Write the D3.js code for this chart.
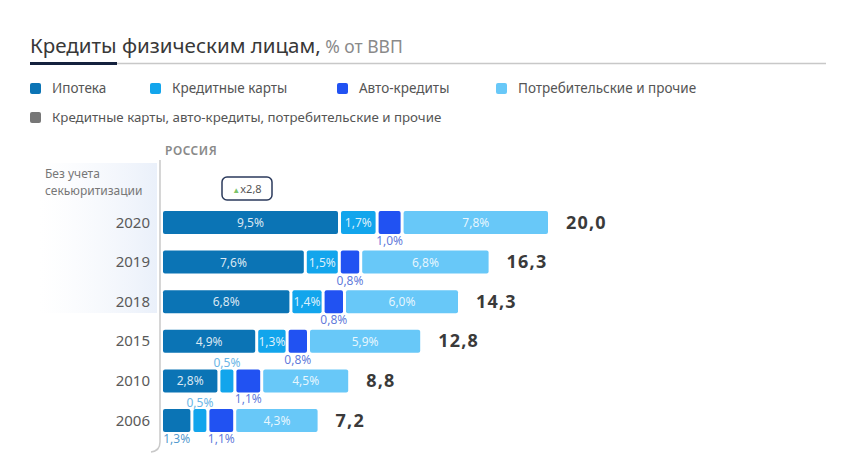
<!DOCTYPE html>
<html><head><meta charset="utf-8">
<script src="https://cdn.jsdelivr.net/npm/d3@7"></script>
<style>body{margin:0;background:#fff}svg{display:block;font-family:"Noto Sans",sans-serif}</style>
</head><body><svg id="c" width="847" height="460"></svg>
<script>
const years = ["2020","2019","2018","2015","2010","2006"];
const mortgage = [9.5,7.6,6.8,4.9,2.8,1.3];
const cards = [1.7,1.5,1.4,1.3,0.5,0.5];
const autoLoans = [1.0,0.8,0.8,0.8,1.1,1.1];
const consumer = [7.8,6.8,6.0,5.9,4.5,4.3];
const totals = ["20,0","16,3","14,3","12,8","8,8","7,2"];
const seriesNames = ["Ипотека","Кредитные карты","Авто-кредиты","Потребительские и прочие"];
const combinedName = "Кредитные карты, авто-кредиты, потребительские и прочие";
const colors = ["#0b74b5","#12a5ec","#2152f2","#68c8f8"];
const combinedColor = "#777";

const svg = d3.select("#c");
const fmt = v => v.toFixed(1).replace(".", ",") + "%";

// title
const t = svg.append("text").attr("x",30).attr("y",53);
t.append("tspan").text("Кредиты физическим лицам,").attr("font-size",20.5).attr("fill","#383838");
t.append("tspan").text(" % от ВВП").attr("font-size",17.5).attr("fill","#8a8a8a");
svg.append("line").attr("x1",117).attr("x2",826).attr("y1",63.5).attr("y2",63.5).attr("stroke","#c8c8c8").attr("stroke-width",1.5);
svg.append("line").attr("x1",30).attr("x2",117).attr("y1",63.5).attr("y2",63.5).attr("stroke","#14213d").attr("stroke-width",3);

// legend
const legX = [30,150,337,496];
seriesNames.forEach((n,i)=>{
  svg.append("rect").attr("x",legX[i]).attr("y",83).attr("width",11).attr("height",11).attr("rx",2).attr("fill",colors[i]);
  svg.append("text").attr("x",legX[i]+22).attr("y",93).attr("font-size",13.5).attr("fill","#555").text(n);
});
svg.append("rect").attr("x",30).attr("y",112).attr("width",11).attr("height",11).attr("rx",2).attr("fill",combinedColor);
svg.append("text").attr("x",52).attr("y",122).attr("font-size",13.3).attr("fill","#555").text(combinedName);

// left panel gradient
const defs = svg.append("defs");
const g = defs.append("linearGradient").attr("id","lg").attr("x1","0").attr("x2","1").attr("y1","0").attr("y2","0");
g.append("stop").attr("offset","0").attr("stop-color","#f4f7fc").attr("stop-opacity",0);
g.append("stop").attr("offset","1").attr("stop-color","#eaf0fa");
svg.append("rect").attr("x",40).attr("y",163).attr("width",117).attr("height",150).attr("fill","url(#lg)");

// axis line with rounded corner
svg.append("path").attr("d","M160,160 L160,442 Q160,451 151,452").attr("fill","none").attr("stroke","#c9c9c9").attr("stroke-width",1.5);

svg.append("text").attr("x",165).attr("y",155).attr("font-size",12).attr("font-weight",600).attr("fill","#8a8a8a").attr("letter-spacing",0.5).text("РОССИЯ");
svg.append("text").attr("x",45).attr("y",178).attr("font-size",12).attr("fill","#777").text("Без учета");
svg.append("text").attr("x",45).attr("y",195).attr("font-size",12).attr("fill","#777").text("секьюритизации");

// badge
svg.append("rect").attr("x",222).attr("y",177).attr("width",50).attr("height",23).attr("rx",5).attr("fill","#fff").attr("stroke","#2b3a5c").attr("stroke-width",1.5);
const bt = svg.append("text").attr("x",247).attr("y",193).attr("text-anchor","middle");
bt.append("tspan").text("▲").attr("font-size",8).attr("fill","#7cc36a");
bt.append("tspan").text("x2,8").attr("font-size",11).attr("fill","#555");

// scales
const x = d3.scaleLinear().domain([0,20]).range([4,364]);
const y = d3.scaleBand().domain(years).range([202.7,440.3]).paddingInner(0.42).paddingOuter(0.21);
const x0 = 163, gap = 3;

const series = [mortgage,cards,autoLoans,consumer];
years.forEach((yr,i)=>{
  let cx = x0;
  const top = y(yr), h = y.bandwidth();
  svg.append("text").attr("x",150).attr("y",top+h/2+5).attr("text-anchor","end").attr("font-size",15).attr("fill","#5a5a5a").text(yr);
  series.forEach((s,k)=>{
    const w = x(s[i]);
    svg.append("rect").attr("x",cx).attr("y",top).attr("width",w).attr("height",h).attr("rx",2).attr("fill",colors[k]);
    const mid = cx + w/2;
    const v = s[i];
    let pos;
    if (k===2) pos = "below";
    else if (k===0) pos = v>=2 ? "in" : "below";
    else if (k===1) pos = v>=1 ? "in" : "above";
    else pos = "in";
    const lab = svg.append("text").attr("x",mid).attr("text-anchor","middle").attr("font-size",12).text(fmt(v));
    if (pos==="in") lab.attr("y",top+h/2+4.5).attr("fill","#fff").attr("fill-opacity",0.85);
    else if (pos==="below") lab.attr("y",top+h+11).attr("fill",k===2?"#4d6ad6":"#3a8dc8").attr("fill-opacity",0.9);
    else lab.attr("y",top-2).attr("fill","#6bb6e6");
    cx += w + gap;
  });
  svg.append("text").attr("x",cx-gap+18).attr("y",top+h/2+6).attr("font-size",18).attr("font-weight",700).attr("letter-spacing",1.2).attr("fill","#3a3a3a").text(totals[i]);
});
</script></body></html>
